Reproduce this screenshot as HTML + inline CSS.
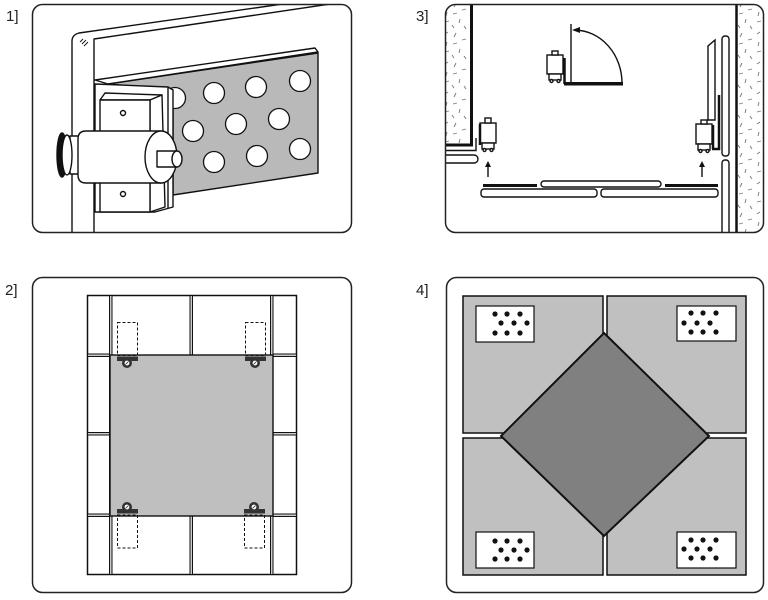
<!DOCTYPE html>
<html><head><meta charset="utf-8"><style>
html,body{margin:0;padding:0;background:#fff;}
svg{display:block;}
text{font-family:"Liberation Sans",sans-serif;font-size:15px;fill:#222;}
</style></head><body>
<svg width="768" height="600" viewBox="0 0 768 600" xmlns="http://www.w3.org/2000/svg">
<defs>
<clipPath id="c1"><rect x="32.5" y="4.5" width="319" height="228" rx="10"/></clipPath>
<clipPath id="c3"><rect x="445.5" y="4.5" width="318" height="228" rx="10"/></clipPath>
<pattern id="st" width="26" height="30" patternUnits="userSpaceOnUse">
<g stroke="#777" stroke-width="0.9" fill="none">
<line x1="3" y1="4" x2="6" y2="2"/><line x1="14" y1="3" x2="12" y2="7"/>
<line x1="20" y1="10" x2="24" y2="9"/><line x1="5" y1="12" x2="4" y2="16"/>
<line x1="11" y1="14" x2="15" y2="13"/><line x1="18" y1="19" x2="17" y2="23"/>
<line x1="3" y1="22" x2="7" y2="21"/><line x1="10" y1="25" x2="12" y2="28"/>
<line x1="22" y1="26" x2="24" y2="29"/>
</g></pattern>
</defs>

<!-- Labels -->
<text x="6" y="21">1]</text>
<text x="416" y="21">3]</text>
<text x="5" y="295">2]</text>
<text x="416" y="295">4]</text>

<!-- ================= PANEL 1 ================= -->
<g clip-path="url(#c1)" stroke="#111" stroke-width="1.4" fill="none" stroke-linejoin="round">
  <!-- frame -->
  <path d="M72,240 L72,41 Q72,35 79,33 L290,3"/>
  <path d="M94,240 L94,39 L330,4"/>
  <path d="M80,42 l3,-3 M82,44 l4,-4 M84,46 l4,-4" stroke-width="0.9"/>
  <!-- plate -->
  <polygon points="108,84 318,53 318,173 173,195 173,90" fill="#b9b9b9"/>
  <g fill="#fff" stroke-width="1.3">
    <circle cx="175" cy="98" r="10.5"/>
    <circle cx="214" cy="93" r="10.5"/>
    <circle cx="256" cy="87" r="10.5"/>
    <circle cx="300" cy="81" r="10.5"/>
    <circle cx="193" cy="131" r="10.5"/>
    <circle cx="236" cy="124" r="10.5"/>
    <circle cx="279" cy="119" r="10.5"/>
    <circle cx="214" cy="162" r="10.5"/>
    <circle cx="257" cy="156" r="10.5"/>
    <circle cx="300" cy="149" r="10.5"/>
  </g>
  <polygon points="95,80 315,48 318,52 108,84" fill="#fff"/>
  <!-- mount plate -->
  <polygon points="95,84 168,87 173,90 173,207 155,212 95,212" fill="#fff"/>
  <line x1="168" y1="87" x2="168" y2="208"/>
  <!-- box -->
  <polygon points="100,100 105,93 162,95 150,100" fill="#fff"/>
  <polygon points="150,100 162,95 165,207 150,212" fill="#fff"/>
  <rect x="100" y="100" width="50" height="112" fill="#fff"/>
  <circle cx="123" cy="113" r="2.5" fill="#fff"/>
  <circle cx="123" cy="194" r="2.5" fill="#fff"/>
  <!-- cylinder -->
  <rect x="70" y="136" width="10" height="38" fill="#fff"/>
  <ellipse cx="62" cy="155" rx="5" ry="22" fill="#111"/>
  <ellipse cx="67" cy="155" rx="5" ry="20" fill="#fff"/>
  <path d="M86,131 L161,131 L161,183 L86,183 Q78,183 78,175 L78,139 Q78,131 86,131 Z" fill="#fff"/>
  <ellipse cx="161" cy="157" rx="16" ry="26" fill="#fff"/>
  <rect x="157" y="151" width="20" height="16" fill="#fff"/>
  <ellipse cx="177" cy="159" rx="5" ry="8" fill="#fff"/>
</g>
<rect x="32.5" y="4.5" width="319" height="228" rx="10" fill="none" stroke="#222" stroke-width="1.5"/>

<!-- ================= PANEL 3 ================= -->
<g clip-path="url(#c3)" stroke="#111" stroke-width="1.4" fill="none">
  <!-- left wall -->
  <rect x="440" y="0" width="31" height="144" fill="url(#st)" stroke="none"/>
  <line x1="471.5" y1="0" x2="471.5" y2="146.5" stroke-width="3"/>
  <line x1="440" y1="145" x2="473" y2="145" stroke-width="3"/>
  <path d="M440,150.5 L476,150.5 L476,138" stroke-width="1.4"/>
  <rect x="436" y="155" width="42" height="8" rx="4" fill="#fff"/>
  <!-- right wall -->
  <rect x="737" y="0" width="31" height="240" fill="url(#st)" stroke="none"/>
  <line x1="736.5" y1="0" x2="736.5" y2="240" stroke-width="2.5"/>
  <rect x="722" y="36" width="7" height="120" rx="3" fill="#fff"/>
  <rect x="722" y="160" width="7" height="90" rx="3" fill="#fff"/>
  <polygon points="708,120 708,46 715,40 715,120" fill="#fff"/>
  <path d="M719,95 L719,149 L712,149" stroke-width="2.5"/>
  <!-- top door -->
  <line x1="571" y1="24" x2="571" y2="85"/>
  <path d="M575,30 A48,53 0 0 1 622,83"/>
  <polygon points="572,30 580,27 580,33" fill="#111" stroke="none"/>
  <rect x="564" y="82" width="59" height="3.5" fill="#111" stroke="none"/>
  <line x1="564.5" y1="58" x2="564.5" y2="84" stroke-width="2.5"/>
  <!-- carts -->
  <g fill="#fff">
    <rect x="547" y="55" width="16" height="19"/>
    <rect x="552" y="51" width="6" height="4"/>
    <rect x="549" y="74" width="12" height="6"/>
    <circle cx="551.5" cy="81" r="1.5"/><circle cx="558.5" cy="81" r="1.5"/>

    <rect x="480" y="123" width="16" height="20"/>
    <rect x="485" y="118" width="6" height="5"/>
    <rect x="482" y="143" width="12" height="6"/>
    <circle cx="484.5" cy="150" r="1.5"/><circle cx="491.5" cy="150" r="1.5"/>

    <rect x="696" y="124" width="16" height="20"/>
    <rect x="701" y="120" width="6" height="4"/>
    <rect x="698" y="144" width="12" height="6"/>
    <circle cx="700.5" cy="151" r="1.5"/><circle cx="707.5" cy="151" r="1.5"/>
  </g>
  <line x1="480" y1="124" x2="480" y2="145" stroke-width="2.5"/>
  <line x1="713" y1="125" x2="713" y2="149" stroke-width="2.5"/>
  <!-- arrows -->
  <line x1="488" y1="177" x2="488" y2="165"/>
  <polygon points="488,161 485,167 491,167" fill="#111" stroke="none"/>
  <line x1="702" y1="177" x2="702" y2="165"/>
  <polygon points="702,161 699,167 705,167" fill="#111" stroke="none"/>
  <!-- bottom strips -->
  <rect x="483" y="184" width="54" height="3" fill="#111" stroke="none"/>
  <rect x="665" y="184" width="53" height="3" fill="#111" stroke="none"/>
  <rect x="541" y="181" width="120" height="6" rx="3" fill="#fff"/>
  <rect x="481" y="189" width="116" height="8" rx="3" fill="#fff"/>
  <rect x="601" y="189" width="117" height="8" rx="3" fill="#fff"/>
</g>
<rect x="445.5" y="4.5" width="318" height="228" rx="10" fill="none" stroke="#222" stroke-width="1.5"/>

<!-- ================= PANEL 2 ================= -->
<rect x="32.5" y="277.5" width="319" height="315" rx="10" fill="none" stroke="#222" stroke-width="1.5"/>
<g stroke="#111" stroke-width="1" fill="none">
  <rect x="87.5" y="295.5" width="209" height="279" stroke-width="1.5"/>
  <!-- vertical grout -->
  <rect x="109.5" y="295.5" width="2.5" height="279" fill="#ccc"/>
  <rect x="190" y="295.5" width="2.5" height="279" fill="#ccc"/>
  <rect x="270.5" y="295.5" width="2.5" height="279" fill="#ccc"/>
  <!-- horizontal grout -->
  <rect x="87.5" y="354" width="22" height="2.5" fill="#ccc"/>
  <rect x="273" y="354" width="23.5" height="2.5" fill="#ccc"/>
  <rect x="87.5" y="432.5" width="22" height="2.5" fill="#ccc"/>
  <rect x="273" y="432.5" width="23.5" height="2.5" fill="#ccc"/>
  <rect x="87.5" y="514" width="22" height="2.5" fill="#ccc"/>
  <rect x="273" y="514" width="23.5" height="2.5" fill="#ccc"/>
  <!-- panel -->
  <rect x="110" y="355" width="163" height="161" fill="#bfbfbf" stroke-width="1.4"/>
  <!-- dashed -->
  <g stroke-dasharray="3,2">
    <rect x="117.5" y="322.5" width="20" height="33"/>
    <rect x="245.5" y="322.5" width="20" height="33"/>
    <rect x="117.5" y="515" width="20" height="33"/>
    <rect x="244.5" y="515" width="20" height="33"/>
  </g>
</g>
<!-- clips -->
<g>
  <rect x="117" y="356.5" width="21" height="4.5" fill="#333"/>
  <circle cx="127" cy="363" r="5" fill="#333"/>
  <circle cx="127" cy="363" r="2.4" fill="#fff"/>
  <rect x="245" y="356.5" width="21" height="4.5" fill="#333"/>
  <circle cx="255" cy="363" r="5" fill="#333"/>
  <circle cx="255" cy="363" r="2.4" fill="#fff"/>
  <rect x="117" y="509" width="21" height="4.5" fill="#333"/>
  <circle cx="127" cy="507" r="5" fill="#333"/>
  <circle cx="127" cy="507" r="2.4" fill="#fff"/>
  <rect x="244" y="509" width="21" height="4.5" fill="#333"/>
  <circle cx="254" cy="507" r="5" fill="#333"/>
  <circle cx="254" cy="507" r="2.4" fill="#fff"/>
  <g stroke="#333" stroke-width="0.8">
    <line x1="125.5" y1="364.5" x2="128.5" y2="361.5"/><line x1="253.5" y1="364.5" x2="256.5" y2="361.5"/>
    <line x1="125.5" y1="508.5" x2="128.5" y2="505.5"/><line x1="252.5" y1="508.5" x2="255.5" y2="505.5"/>
  </g>
</g>

<!-- ================= PANEL 4 ================= -->
<rect x="446.5" y="277.5" width="317" height="315" rx="10" fill="none" stroke="#222" stroke-width="1.5"/>
<g stroke="#111" stroke-width="1.5" fill="#c0c0c0">
  <rect x="463" y="296" width="140" height="137"/>
  <rect x="607" y="296" width="139" height="137"/>
  <rect x="463" y="438" width="140" height="137"/>
  <rect x="607" y="438" width="139" height="137"/>
  <polygon points="604,333 709,436 604,536 501,436" fill="#808080" stroke-width="2"/>
  <g fill="#fff" stroke-width="1.2">
    <rect x="476" y="306" width="58" height="36"/>
    <rect x="677" y="306" width="59" height="35"/>
    <rect x="476" y="532" width="58" height="36"/>
    <rect x="677" y="532" width="59" height="36"/>
  </g>
</g>
<g fill="#111">
  <circle cx="495" cy="314" r="2.6"/><circle cx="507" cy="314" r="2.6"/><circle cx="520" cy="314" r="2.6"/>
  <circle cx="501" cy="323" r="2.6"/><circle cx="514" cy="323" r="2.6"/><circle cx="527" cy="323" r="2.6"/>
  <circle cx="495" cy="333" r="2.6"/><circle cx="507" cy="333" r="2.6"/><circle cx="520" cy="333" r="2.6"/>

  <circle cx="691" cy="313" r="2.6"/><circle cx="703" cy="313" r="2.6"/><circle cx="716" cy="313" r="2.6"/>
  <circle cx="684" cy="323" r="2.6"/><circle cx="697" cy="323" r="2.6"/><circle cx="710" cy="323" r="2.6"/>
  <circle cx="691" cy="332" r="2.6"/><circle cx="703" cy="332" r="2.6"/><circle cx="716" cy="332" r="2.6"/>

  <circle cx="495" cy="541" r="2.6"/><circle cx="507" cy="541" r="2.6"/><circle cx="520" cy="541" r="2.6"/>
  <circle cx="501" cy="550" r="2.6"/><circle cx="514" cy="550" r="2.6"/><circle cx="527" cy="550" r="2.6"/>
  <circle cx="495" cy="559" r="2.6"/><circle cx="507" cy="559" r="2.6"/><circle cx="520" cy="559" r="2.6"/>

  <circle cx="691" cy="540" r="2.6"/><circle cx="703" cy="540" r="2.6"/><circle cx="716" cy="540" r="2.6"/>
  <circle cx="684" cy="549" r="2.6"/><circle cx="697" cy="549" r="2.6"/><circle cx="710" cy="549" r="2.6"/>
  <circle cx="691" cy="558" r="2.6"/><circle cx="703" cy="558" r="2.6"/><circle cx="716" cy="558" r="2.6"/>
</g>
</svg>
</body></html>
